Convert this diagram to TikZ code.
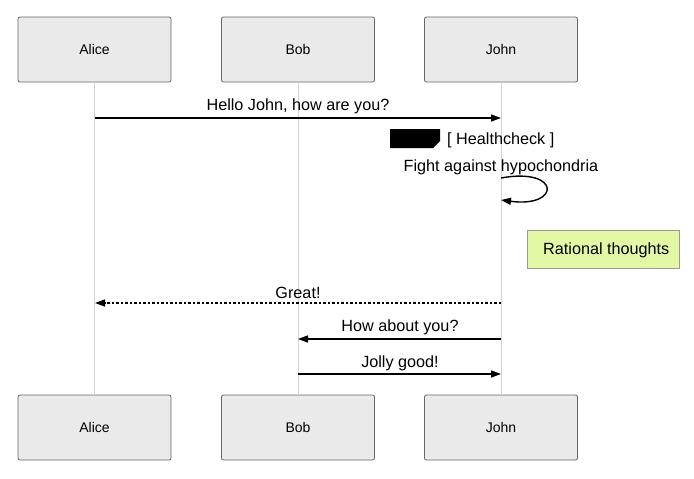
\documentclass[tikz,border=0pt]{standalone}
\usepackage{fontspec}
\setmainfont{Liberation Sans}
\usetikzlibrary{arrows.meta}
\definecolor{actorfill}{HTML}{EAEAEA}
\definecolor{actorline}{HTML}{666666}
\definecolor{lifeline}{HTML}{D3D3D3}
\definecolor{notefill}{HTML}{E2F8A2}
\definecolor{noteline}{HTML}{999999}
\begin{document}
\begin{tikzpicture}[x=1pt,y=-1pt,
  actor/.style={draw=actorline,fill=actorfill,rounded corners=2pt,minimum width=153pt,minimum height=65pt,inner sep=0pt,font=\fontsize{14}{16}\selectfont,line width=0.8pt},
  msgtext/.style={font=\fontsize{16.2}{19}\selectfont,inner sep=0pt},
  msg/.style={line width=1.4pt,-{Triangle[length=10pt,width=7pt]}},
  life/.style={draw=lifeline,line width=0.8pt}]
\useasboundingbox (0,0) rectangle (694,479);
% actors
\node[actor] (at) at (94.5,49.5) {Alice};
\node[actor] (bt) at (298,49.5) {Bob};
\node[actor] (jt) at (501,49.5) {John};
\node[actor] (ab) at (94.5,427.5) {Alice};
\node[actor] (bb) at (298,427.5) {Bob};
\node[actor] (jb) at (501,427.5) {John};
% lifelines
\draw[life] (at.south) -- (ab.north);
\draw[life] (bt.south) -- (bb.north);
\draw[life] (jt.south) -- (jb.north);
% coordinates
\coordinate (a1) at (95,118); \coordinate (j1) at (501,118);
\coordinate (l1) at (501,178); \coordinate (l2) at (501,200);
\coordinate (j4) at (501,303); \coordinate (a4) at (95,303);
\coordinate (j5) at (501,339); \coordinate (b5) at (298,339);
\coordinate (b6) at (298,374); \coordinate (j6) at (501,374);
% message 1
\node[msgtext] (t1) at (298,106.5) {Hello John, how are you?};
\draw[msg] (a1) -- (j1);
% loop label
\fill (390,129) -- (440,129) -- (440,141) -- (433,148) -- (390,148) -- cycle;
\node[msgtext,anchor=west] (loopt) at (447,140) {[ Healthcheck ]};
% self message
\node[msgtext] (t2) at (501,167.5) {Fight against hypochondria};
\draw[msg] (l1) .. controls (561,167) and (561,208) .. (l2);
% note
\node[draw=noteline,fill=notefill,minimum width=152pt,minimum height=38pt,inner sep=0pt,line width=0.8pt] (note) at (603,249) {};
\node[msgtext,anchor=west] (notet) at (543,250) {Rational thoughts};
% message 4
\node[msgtext] (t4) at (298,292.5) {Great!};
\draw[msg,dash pattern=on 2.5pt off 2pt] (j4) -- (a4);
% message 5
\node[msgtext] (t5) at (400,327.5) {How about you?};
\draw[msg] (j5) -- (b5);
% message 6
\node[msgtext] (t6) at (400,363.5) {Jolly good!};
\draw[msg] (b6) -- (j6);
\end{tikzpicture}
\end{document}
